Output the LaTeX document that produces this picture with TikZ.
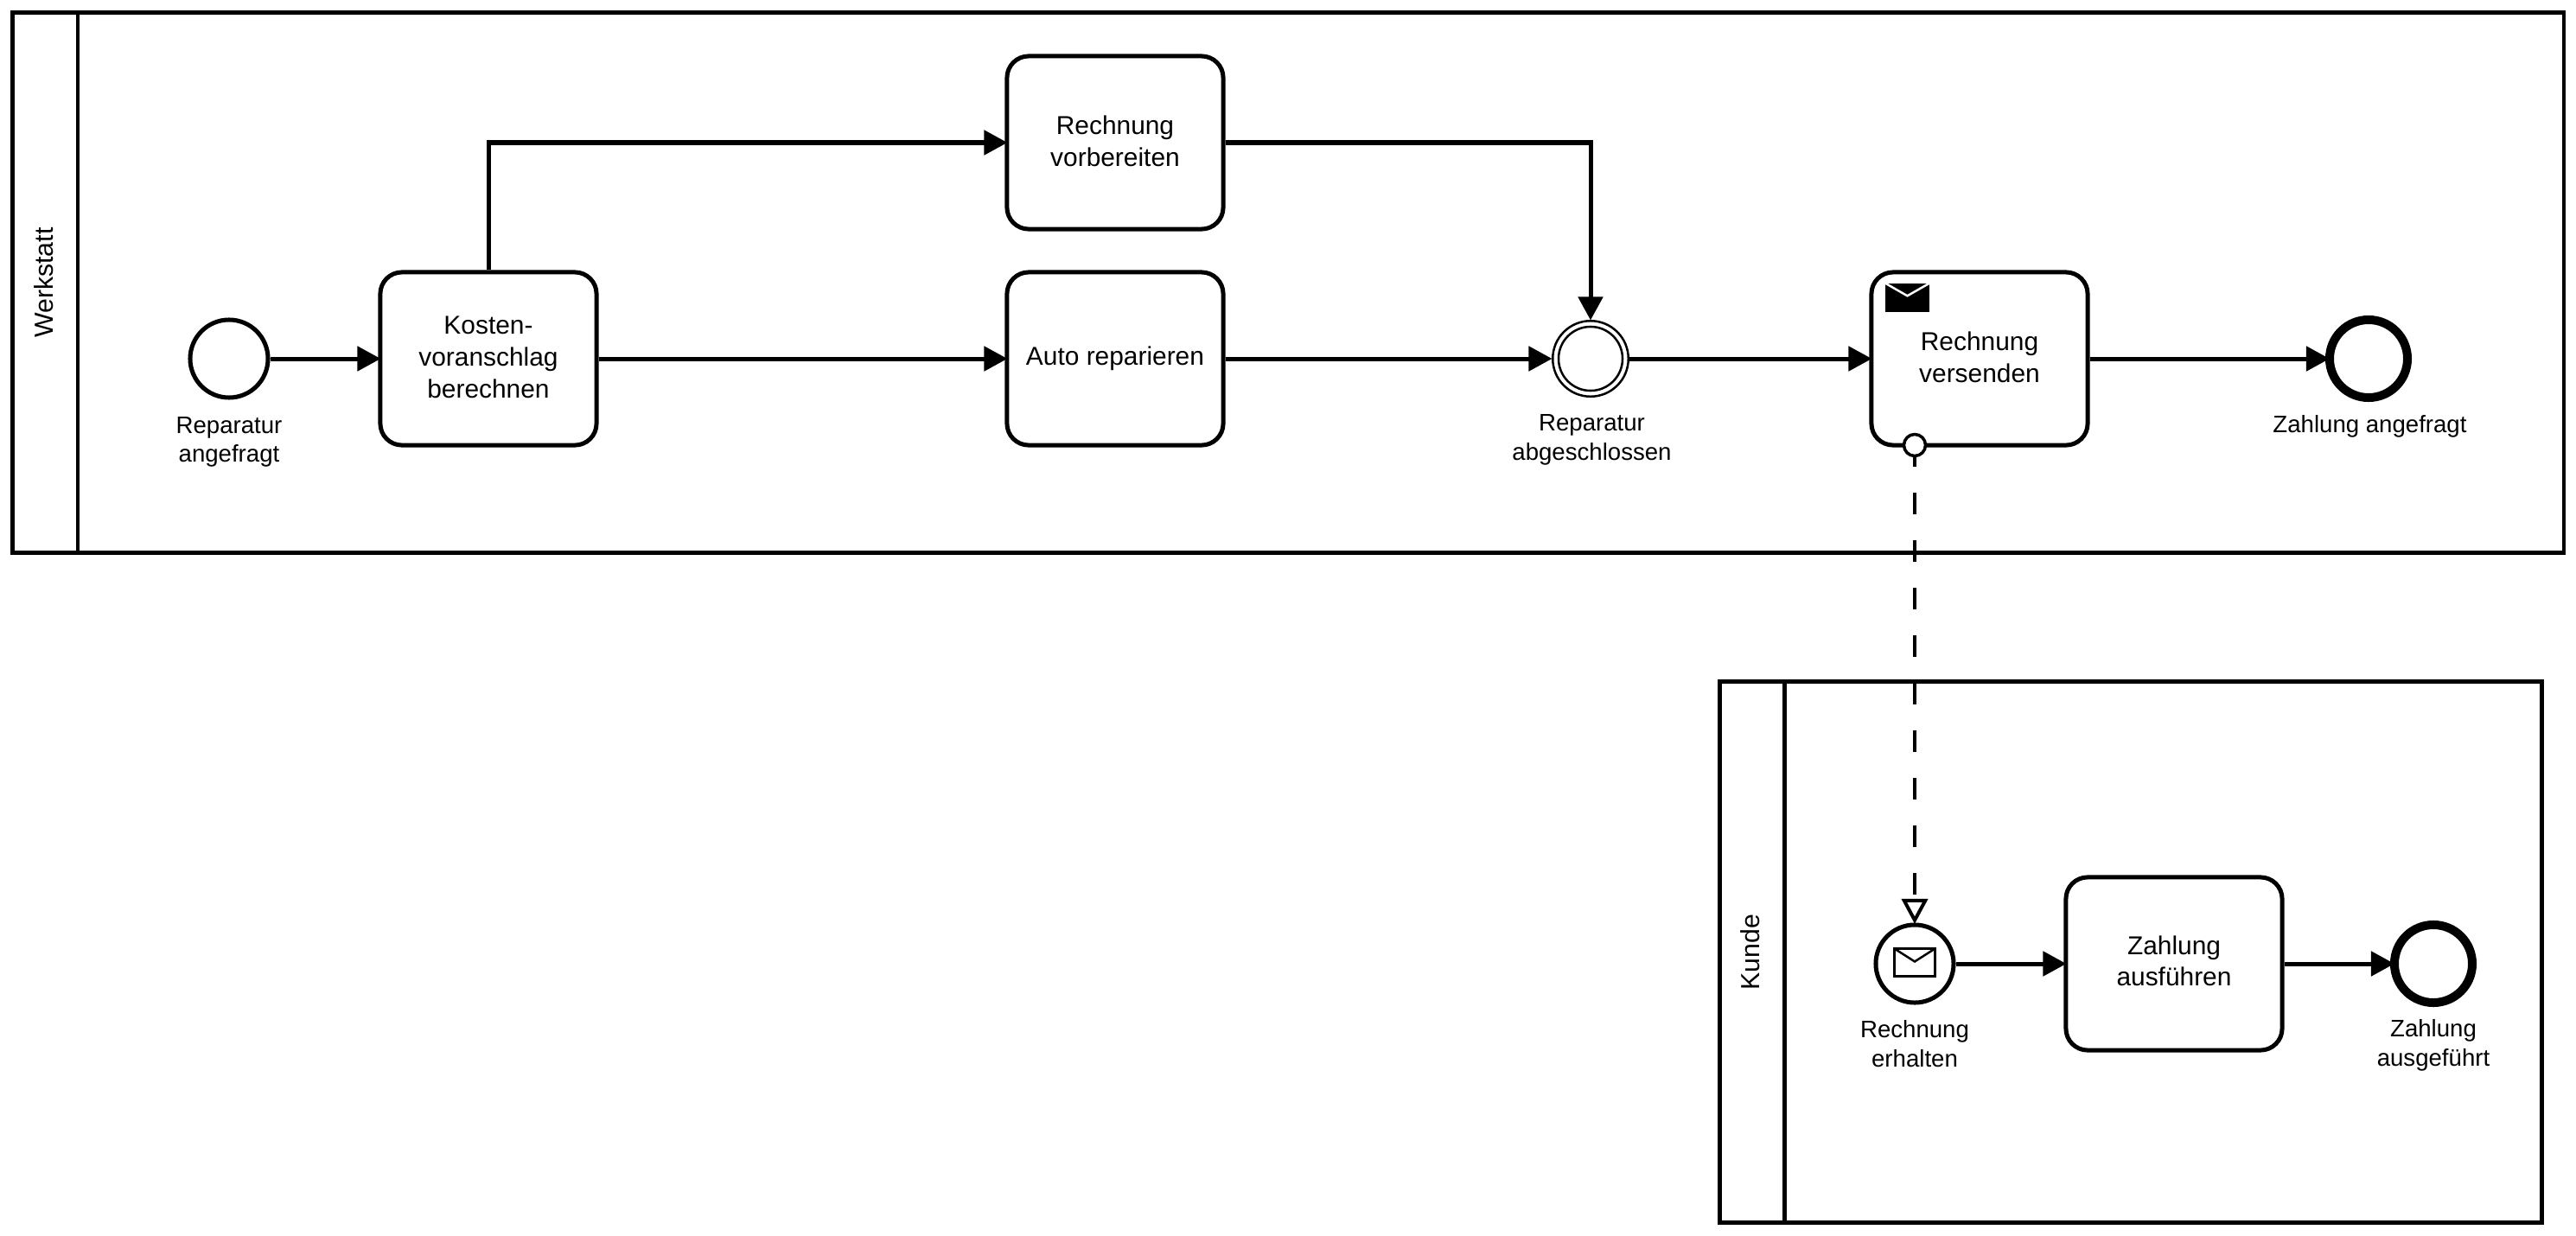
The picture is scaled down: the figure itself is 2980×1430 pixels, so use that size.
\documentclass[tikz,border=0pt]{standalone}
\usepackage{fontspec}
\setmainfont{Liberation Sans}
\usetikzlibrary{arrows.meta,positioning,calc}

\begin{document}
\begin{tikzpicture}[
    x=0.01cm,
    y=-0.01cm,
    poolblock/.style={
        rectangle,
        draw=black,
        line width=0.047cm,
        fill=white,
        inner sep=0pt
    },
    poolhead/.style={
        poolblock,
        rotate=90,
        minimum height=0.75cm,
        text depth=0.04cm,
        font=\fontsize{8.6}{10}\selectfont
    },
    taskblock/.style={
        rectangle,
        draw=black,
        line width=0.05cm,
        minimum width=2.5cm,
        minimum height=2cm,
        align=center,
        rounded corners=0.25cm,
        fill=white,
        inner sep=0pt,
        text depth=0.035cm,
        font=\fontsize{8.5}{10.4}\selectfont
    },
    eventblock/.style={
        circle,
        draw=black,
        line width=0.05cm,
        minimum size=0.9cm,
        fill=white,
        inner sep=0pt
    },
    endblock/.style={eventblock, line width=0.1cm},
    thinblock/.style={eventblock, line width=0.025cm},
    labelblock/.style={
        align=center,
        inner sep=0pt,
        font=\fontsize{7.85}{9.6}\selectfont
    },
    line/.style={
        draw=black,
        line width=0.05cm,
        shorten >=-0.03cm,
        -{Triangle[length=0.27cm,width=0.28cm]}
    },
    event line/.style={line, shorten >=-0.005cm},
    end line/.style={line, shorten >=-0.05cm},
    message line/.style={
        draw=black,
        line width=0.035cm,
        dash pattern=on 0.25cm off 0.3cm,
        dash phase=0.145cm,
        shorten >=-0.015cm,
        -{Triangle[open,fill=white,length=0.29cm,width=0.3cm,line width=0.04cm]}
    }
]

\useasboundingbox (0,0) rectangle (2980,1430);

% Pools
\node [poolblock, minimum width=29.5cm, minimum height=6.24cm] (werkstatt) at (1490,327) {};
\node [poolhead, minimum width=6.24cm] (werkstatthead) at (52.5,327) {Werkstatt};
\node [poolblock, minimum width=9.5cm, minimum height=6.25cm] (kunde) at (2465,1101.5) {};
\node [poolhead, minimum width=6.25cm] (kundehead) at (2027,1101.5) {Kunde};

% Tasks
\node [taskblock] (kosten) at (565,415) {Kosten-\\voranschlag\\berechnen};
\node [taskblock] (vorbereiten) at (1290,165) {Rechnung\\vorbereiten};
\node [taskblock, text depth=0.06cm] (reparieren) at (1290,415) {Auto reparieren};
\node [taskblock] (versenden) at (2290,415) {Rechnung\\versenden};
\node [taskblock, text depth=0.07cm] (ausfuehren) at (2515,1115) {Zahlung\\ausführen};

% Events
\node [eventblock] (angefragt) at (265,415) {};
\node [thinblock, minimum size=0.875cm] (abgeschlossen) at (1840,415) {};
\node [thinblock, minimum size=0.74cm] (abgeschlosseninner) at (abgeschlossen) {};
\node [endblock] (zahlungend) at (2740,415) {};
\node [eventblock] (erhalten) at (2215,1115) {};
\node [endblock] (ausgefuehrt) at (2815,1115) {};
\node [eventblock, minimum size=0.25cm, line width=0.035cm] (boundary) at (2215,515) {};

% Envelopes
\node [rectangle, fill=black, inner sep=0pt, minimum width=0.51cm, minimum height=0.33cm] (sendmail) at (2206.5,344.5) {};
\draw [white, line width=0.025cm] (sendmail.north west) -- ($(sendmail.north)+(0,15)$) -- (sendmail.north east);
\node [rectangle, draw=black, line width=0.025cm, inner sep=0pt, minimum width=0.47cm, minimum height=0.32cm, outer sep=0pt] (getmail) at (2215,1113.5) {};
\draw [line width=0.025cm] (getmail.north west) -- ($(getmail.north)+(0,15)$) -- (getmail.north east);

% Labels
\node [labelblock, below=0.19cm of angefragt] (angefragtlabel) {Reparatur\\angefragt};
\node [labelblock, below=0.19cm of abgeschlossen, xshift=0.015cm] (abgeschlossenlabel) {Reparatur\\abgeschlossen};
\node [labelblock, below=0.15cm of zahlungend, xshift=0.015cm] (zahlungendlabel) {Zahlung angefragt};
\node [labelblock, below=0.17cm of erhalten] (erhaltenlabel) {Rechnung\\erhalten};
\node [labelblock, below=0.14cm of ausgefuehrt] (ausgefuehrtlabel) {Zahlung\\ausgeführt};

% Connections
\draw [line] (angefragt) -- (kosten);
\draw [line] (kosten) -- (reparieren);
\draw [line] (kosten.north) |- (vorbereiten.west);
\draw [event line] (vorbereiten.east) -| (abgeschlossen.north);
\draw [event line] (reparieren) -- (abgeschlossen);
\draw [line] (abgeschlossen) -- (versenden);
\draw [end line] (versenden) -- (zahlungend);
\draw [line] (erhalten) -- (ausfuehren);
\draw [end line] (ausfuehren) -- (ausgefuehrt);
\draw [message line] (boundary.south) -- (erhalten.north);

\end{tikzpicture}
\end{document}
